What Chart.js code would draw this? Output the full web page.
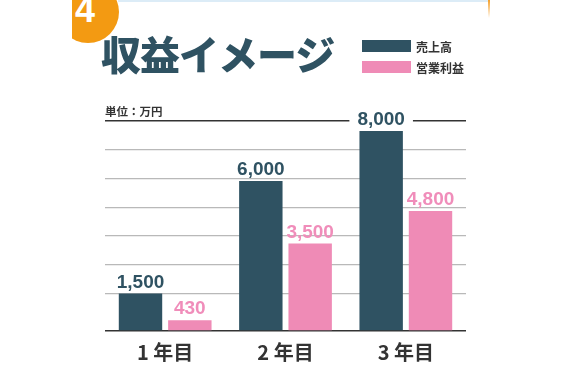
<!DOCTYPE html>
<html>
<head>
<meta charset="utf-8">
<script src="https://cdn.jsdelivr.net/npm/chart.js@4/dist/chart.umd.min.js"></script>
<style>
  html, body { margin: 0; padding: 0; background: #fff; }
  #wrap { position: relative; width: 564px; height: 376px; overflow: hidden; }
  #chart { position: absolute; left: 0; top: 0; }
  .topline { position: absolute; left: 118px; top: 0; width: 370px; height: 2px; background: #dcecf7; }
  .edge { position: absolute; left: 488px; top: 0; width: 2px; height: 18px; background: linear-gradient(#f5a02a, rgba(245,160,42,0)); }
  .badge { position: absolute; left: 72px; top: 0; width: 50px; height: 46px; overflow: hidden; }
  .badge .dot { position: absolute; left: -15px; top: -19px; width: 62px; height: 62px; border-radius: 50%; background: #f39a12; }
  .badge .num { position: absolute; left: 3px; top: -11px; font: bold 36px "Liberation Sans", Arial, sans-serif; color: #fff; }
  .title { position: absolute; left: 101px; top: 33px; font: 900 40px "Noto Sans CJK JP", sans-serif; color: #2f5262; letter-spacing: -1px; line-height: 1; }
  .legend { position: absolute; left: 362px; top: 36px; font: bold 12px "Noto Sans CJK JP", sans-serif; color: #333; }
  .legend div { height: 20px; display: flex; align-items: center; margin-bottom: 1px; }
  .legend span.box { display: inline-block; width: 49px; height: 12px; margin-right: 5px; }
  .unit { position: absolute; left: 105px; top: 103px; font: bold 11.5px "Noto Sans CJK JP", sans-serif; color: #333; }
</style>
</head>
<body>
<div id="wrap">
  <canvas id="chart" width="564" height="376"></canvas>
  <div class="topline"></div>
  <div class="edge"></div>
  <div class="badge"><div class="dot"></div><div class="num">4</div></div>
  <div class="title">収益イメージ</div>
  <div class="legend">
    <div><span class="box" style="background:#2f5262"></span>売上高</div>
    <div><span class="box" style="background:#ef8bb6"></span>営業利益</div>
  </div>
  <div class="unit">単位：万円</div>
</div>
<script>
const years = ['1 年目', '2 年目', '3 年目']
const sales = [1500, 6000, 8000]
const profit = [430, 3500, 4800]
const gridTicks = [0, 1500, 2650, 3800, 4950, 6100, 7250, 8400]

const darkColor = '#2f5262'
const pinkColor = '#ef8bb6'
const labelColors = ['#2f5262', '#f08dba']

// value labels above each bar, white box only where it sits on the top rule
const valueLabels = {
    id: 'valueLabels',
    afterDatasetsDraw(chart) {
        const ctx = chart.ctx
        const area = chart.chartArea
        ctx.save()
        ctx.font = 'bold 19px "Liberation Sans", Arial, sans-serif'
        ctx.textAlign = 'center'
        ctx.textBaseline = 'alphabetic'
        chart.data.datasets.forEach((ds, di) => {
            const meta = chart.getDatasetMeta(di)
            meta.data.forEach((bar, i) => {
                const text = ds.data[i].toLocaleString('en-US')
                const y = bar.y - 6
                const w = ctx.measureText(text).width
                if (y - 14 <= area.top && y + 2 >= area.top) {
                    ctx.fillStyle = '#fff'
                    ctx.fillRect(bar.x - w / 2 - 8, y - 15, w + 16, 17)
                }
                ctx.fillStyle = labelColors[di]
                ctx.fillText(text, bar.x, y)
            })
        })
        ctx.restore()
    }
}

new Chart(document.getElementById('chart'), {
    type: 'bar',
    data: {
        labels: years,
        datasets: [
            { label: '売上高', data: sales, backgroundColor: darkColor },
            { label: '営業利益', data: profit, backgroundColor: pinkColor }
        ]
    },
    options: {
        responsive: false,
        animation: false,
        categoryPercentage: 0.82,
        barPercentage: 0.88,
        layout: {
            padding: { left: 105, right: 98, top: 121, bottom: 11 }
        },
        plugins: {
            legend: { display: false },
            tooltip: { enabled: false }
        },
        scales: {
            x: {
                grid: { display: false },
                border: { display: false },
                ticks: {
                    color: '#333',
                    padding: 1,
                    font: { family: '"Noto Sans CJK JP", sans-serif', size: 20, weight: 'bold' }
                }
            },
            y: {
                min: 0,
                max: 8400,
                afterBuildTicks: (scale) => {
                    scale.ticks = gridTicks.map(v => ({ value: v }))
                },
                ticks: { display: false },
                border: { display: false },
                grid: {
                    drawTicks: false,
                    color: (c) => (c.tick.value === 0 || c.tick.value === 8400) ? '#333' : '#b9b9b9',
                    lineWidth: (c) => (c.tick.value === 0 || c.tick.value === 8400) ? 1.4 : 1.2
                }
            }
        }
    },
    plugins: [valueLabels]
})
</script>
</body>
</html>
